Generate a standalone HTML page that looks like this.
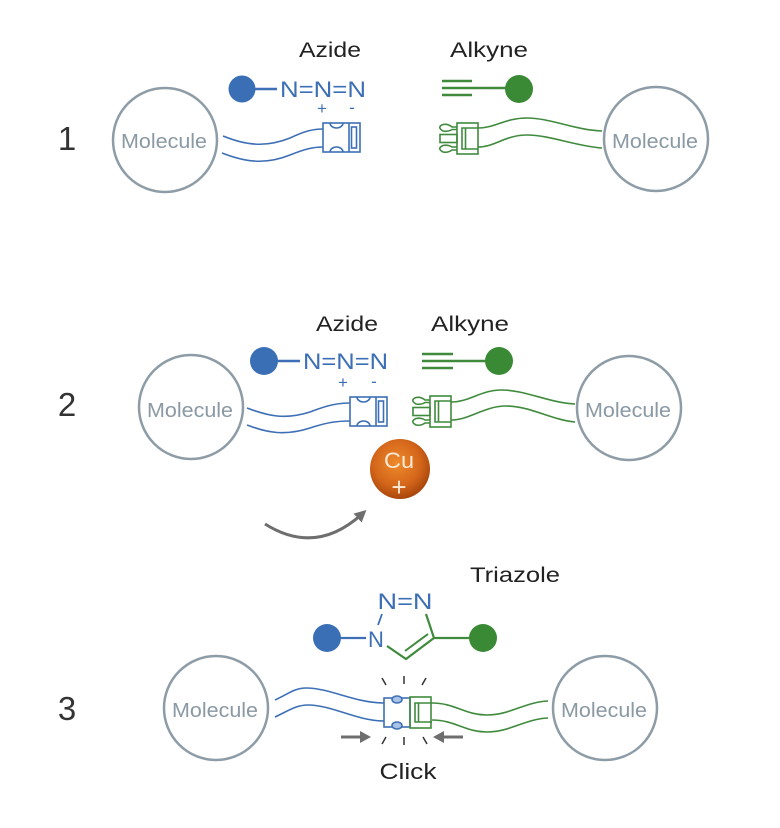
<!DOCTYPE html>
<html>
<head>
<meta charset="utf-8">
<style>
html,body{margin:0;padding:0;background:#fff;}
svg{display:block;}
text{font-family:"Liberation Sans",sans-serif;}
</style>
</head>
<body>
<svg width="780" height="828" viewBox="0 0 780 828" xmlns="http://www.w3.org/2000/svg">
<defs>
  <radialGradient id="cu" cx="45%" cy="40%" r="60%">
    <stop offset="0" stop-color="#ee8a2c"/>
    <stop offset="0.65" stop-color="#d4661a"/>
    <stop offset="1" stop-color="#a9460c"/>
  </radialGradient>
  <marker id="ah" viewBox="0 0 10 10" refX="5" refY="5" markerWidth="4" markerHeight="4" orient="auto">
    <path d="M0,0 L10,5 L0,10 Z" fill="#6e6e6e"/>
  </marker>
  <g id="fem" fill="none" stroke="#3d6fb6" stroke-width="1.6">
    <rect x="0" y="0" width="37" height="29"/>
    <line x1="26" y1="0" x2="26" y2="29"/>
    <rect x="28.5" y="4" width="5" height="21"/>
    <path d="M7,0 A6.5,5 0 0 0 20,0"/>
    <path d="M7,29 A6.5,5 0 0 1 20,29"/>
  </g>
  <g id="male" fill="none" stroke="#3f8a3c" stroke-width="1.6">
    <rect x="20" y="1" width="21" height="31"/>
    <path d="M41,6 H25 V27 H41"/>
    <line x1="28.5" y1="6" x2="28.5" y2="27"/>
    <rect x="3" y="12.5" width="17" height="8"/>
    <path d="M20,5 H15 Q11,1.5 6,2.5 Q-0.5,5 6,9 Q11,10 15,7.5 H20"/>
    <path d="M20,25 H15 Q11,22.5 6,23.5 Q-0.5,26.5 6,30 Q11,31 15,28 H20"/>
  </g>
</defs>

<!-- ================= PANEL 1 ================= -->
<text x="67" y="150" font-size="33" fill="#333" text-anchor="middle">1</text>

<circle cx="165" cy="140" r="52" fill="none" stroke="#8d9ca6" stroke-width="2.5"/>
<text x="164" y="148" font-size="20" fill="#8a99a3" text-anchor="middle" textLength="86" lengthAdjust="spacingAndGlyphs">Molecule</text>

<circle cx="656" cy="139" r="52" fill="none" stroke="#8d9ca6" stroke-width="2.5"/>
<text x="655" y="148" font-size="20" fill="#8a99a3" text-anchor="middle" textLength="86" lengthAdjust="spacingAndGlyphs">Molecule</text>

<text x="330" y="57" font-size="21" fill="#222" text-anchor="middle" textLength="62" lengthAdjust="spacingAndGlyphs">Azide</text>
<text x="489" y="57" font-size="21" fill="#222" text-anchor="middle" textLength="78" lengthAdjust="spacingAndGlyphs">Alkyne</text>

<circle cx="242" cy="89" r="13.5" fill="#3a6fb5"/>
<line x1="255" y1="89" x2="277" y2="89" stroke="#3d6fb6" stroke-width="2.5"/>
<text x="280" y="97" font-size="22" fill="#3d6fb6" textLength="86" lengthAdjust="spacingAndGlyphs">N=N=N</text>
<text x="322" y="114" font-size="17" fill="#3d6fb6" text-anchor="middle">+</text>
<text x="352" y="113" font-size="17" fill="#3d6fb6" text-anchor="middle">-</text>

<path d="M223,136 C245,145 265,148 290,138 C305,131 313,129 323,129" fill="none" stroke="#3d6fb6" stroke-width="1.6"/>
<path d="M222,153 C245,162 265,165 290,155 C305,149 313,147 323,147" fill="none" stroke="#3d6fb6" stroke-width="1.6"/>
<use href="#fem" x="323" y="123"/>

<line x1="442" y1="81" x2="472" y2="81" stroke="#3f8a3c" stroke-width="2.5"/>
<line x1="442" y1="88" x2="508" y2="88" stroke="#3f8a3c" stroke-width="2.5"/>
<line x1="442" y1="95" x2="472" y2="95" stroke="#3f8a3c" stroke-width="2.5"/>
<circle cx="519" cy="89" r="14" fill="#3a8a35"/>

<use href="#male" x="437" y="122"/>
<path d="M478,128 C495,128 505,118 527,118 C550,118 575,130 602,131" fill="none" stroke="#3f8a3c" stroke-width="1.6"/>
<path d="M478,147 C495,147 505,135 527,135 C550,135 575,146 602,148" fill="none" stroke="#3f8a3c" stroke-width="1.6"/>

<!-- ================= PANEL 2 ================= -->
<text x="67" y="416" font-size="33" fill="#333" text-anchor="middle">2</text>

<circle cx="191" cy="407" r="52" fill="none" stroke="#8d9ca6" stroke-width="2.5"/>
<text x="190" y="417" font-size="20" fill="#8a99a3" text-anchor="middle" textLength="86" lengthAdjust="spacingAndGlyphs">Molecule</text>

<circle cx="629" cy="408" r="52" fill="none" stroke="#8d9ca6" stroke-width="2.5"/>
<text x="628" y="417" font-size="20" fill="#8a99a3" text-anchor="middle" textLength="86" lengthAdjust="spacingAndGlyphs">Molecule</text>

<text x="347" y="331" font-size="21" fill="#222" text-anchor="middle" textLength="62" lengthAdjust="spacingAndGlyphs">Azide</text>
<text x="470" y="331" font-size="21" fill="#222" text-anchor="middle" textLength="78" lengthAdjust="spacingAndGlyphs">Alkyne</text>

<circle cx="264" cy="361" r="14" fill="#3a6fb5"/>
<line x1="277" y1="361" x2="300" y2="361" stroke="#3d6fb6" stroke-width="2.5"/>
<text x="303" y="369" font-size="22" fill="#3d6fb6" textLength="85" lengthAdjust="spacingAndGlyphs">N=N=N</text>
<text x="343" y="388" font-size="17" fill="#3d6fb6" text-anchor="middle">+</text>
<text x="374" y="387" font-size="17" fill="#3d6fb6" text-anchor="middle">-</text>

<path d="M247,408 C268,416 285,420 310,412 C328,405 338,403 350,403" fill="none" stroke="#3d6fb6" stroke-width="1.6"/>
<path d="M247,425 C268,433 285,436 310,428 C328,422 338,421 350,421" fill="none" stroke="#3d6fb6" stroke-width="1.6"/>
<use href="#fem" x="350" y="397"/>

<line x1="422" y1="354" x2="453" y2="354" stroke="#3f8a3c" stroke-width="2.5"/>
<line x1="422" y1="361" x2="488" y2="361" stroke="#3f8a3c" stroke-width="2.5"/>
<line x1="422" y1="368" x2="453" y2="368" stroke="#3f8a3c" stroke-width="2.5"/>
<circle cx="499" cy="361" r="14" fill="#3a8a35"/>

<use href="#male" x="410" y="395"/>
<path d="M451,402 C470,402 480,390 502,390 C525,390 550,403 575,404" fill="none" stroke="#3f8a3c" stroke-width="1.6"/>
<path d="M451,420 C470,420 484,406 506,406 C530,406 552,420 575,422" fill="none" stroke="#3f8a3c" stroke-width="1.6"/>

<circle cx="400" cy="469" r="30" fill="url(#cu)"/>
<text x="399" y="468" font-size="22" fill="#fde9d4" text-anchor="middle" textLength="30" lengthAdjust="spacingAndGlyphs">Cu</text>
<text x="399" y="496" font-size="26" fill="#fde9d4" text-anchor="middle">+</text>

<path d="M265,524 Q316,556 362,514" fill="none" stroke="#6e6e6e" stroke-width="3" marker-end="url(#ah)"/>

<!-- ================= PANEL 3 ================= -->
<text x="67" y="720" font-size="33" fill="#333" text-anchor="middle">3</text>

<circle cx="216" cy="708" r="52" fill="none" stroke="#8d9ca6" stroke-width="2.5"/>
<text x="215" y="717" font-size="20" fill="#8a99a3" text-anchor="middle" textLength="86" lengthAdjust="spacingAndGlyphs">Molecule</text>

<circle cx="605" cy="708" r="52" fill="none" stroke="#8d9ca6" stroke-width="2.5"/>
<text x="604" y="717" font-size="20" fill="#8a99a3" text-anchor="middle" textLength="86" lengthAdjust="spacingAndGlyphs">Molecule</text>

<text x="515" y="582" font-size="21" fill="#222" text-anchor="middle" textLength="90" lengthAdjust="spacingAndGlyphs">Triazole</text>

<text x="405" y="609" font-size="22" fill="#3d6fb6" text-anchor="middle" textLength="55" lengthAdjust="spacingAndGlyphs">N=N</text>
<text x="376" y="647" font-size="22" fill="#3d6fb6" text-anchor="middle">N</text>
<line x1="382" y1="614" x2="378" y2="625" stroke="#3d6fb6" stroke-width="1.8"/>
<circle cx="327" cy="638" r="14" fill="#3a6fb5"/>
<line x1="340" y1="638" x2="366" y2="638" stroke="#3d6fb6" stroke-width="2.2"/>
<path d="M387,646 L406,659 L434,638 L426,614" fill="none" stroke="#3f8a3c" stroke-width="2.2"/>
<line x1="405" y1="651" x2="428" y2="634" stroke="#3f8a3c" stroke-width="2"/>
<line x1="434" y1="638" x2="472" y2="638" stroke="#3f8a3c" stroke-width="2.2"/>
<circle cx="483" cy="638" r="14" fill="#3a8a35"/>

<path d="M275,700 C288,694 295,688 306,688 C330,688 355,703 384,703" fill="none" stroke="#3d6fb6" stroke-width="1.6"/>
<path d="M275,717 C288,711 296,705 308,705 C332,705 357,721 384,721" fill="none" stroke="#3d6fb6" stroke-width="1.6"/>
<path d="M432,703 C455,703 465,715 487,715 C510,715 525,702 548,701" fill="none" stroke="#3f8a3c" stroke-width="1.6"/>
<path d="M432,720 C455,720 465,732 487,732 C510,732 525,719 548,718" fill="none" stroke="#3f8a3c" stroke-width="1.6"/>

<g fill="none" stroke-width="1.6">
  <rect x="384" y="698" width="26" height="29" stroke="#3d6fb6"/>
  <ellipse cx="397" cy="699.5" rx="5" ry="3.5" fill="#a9c3e6" stroke="#3d6fb6"/>
  <ellipse cx="397" cy="725.5" rx="5" ry="3.5" fill="#a9c3e6" stroke="#3d6fb6"/>
  <rect x="410" y="697" width="21" height="31" stroke="#3f8a3c"/>
  <path d="M432,703 H415 V722 H432" stroke="#3f8a3c"/>
  <line x1="418.5" y1="703" x2="418.5" y2="722" stroke="#3f8a3c"/>
</g>

<g stroke="#333" stroke-width="1.5">
  <line x1="382" y1="678" x2="386" y2="685"/>
  <line x1="404" y1="676" x2="404" y2="684"/>
  <line x1="426" y1="678" x2="422" y2="685"/>
  <line x1="386" y1="737" x2="382" y2="744"/>
  <line x1="404" y1="737" x2="404" y2="745"/>
  <line x1="423" y1="737" x2="427" y2="744"/>
</g>
<line x1="341" y1="737" x2="362" y2="737" stroke="#6e6e6e" stroke-width="3"/>
<path d="M360,731 L371,737 L360,743 Z" fill="#6e6e6e"/>
<line x1="463" y1="737" x2="442" y2="737" stroke="#6e6e6e" stroke-width="3"/>
<path d="M444,731 L433,737 L444,743 Z" fill="#6e6e6e"/>

<text x="408" y="779" font-size="22" fill="#222" text-anchor="middle" textLength="57" lengthAdjust="spacingAndGlyphs">Click</text>
</svg>
</body>
</html>
